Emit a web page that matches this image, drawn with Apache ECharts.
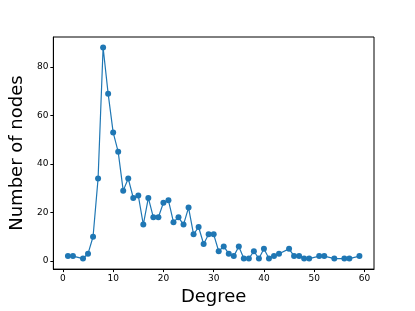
<!DOCTYPE html>
<html>
<head>
<meta charset="utf-8">
<script src="https://cdn.jsdelivr.net/npm/echarts@6/dist/echarts.min.js"></script>
<style>
  html, body { margin: 0; padding: 0; background: #fff; }
  #chart { width: 415px; height: 311px; }
</style>
</head>
<body>
<div id="chart"></div>
<script>
// degree distribution
const degrees = [1, 2, 4, 5, 6, 7, 8, 9, 10, 11, 12, 13, 14, 15, 16, 17, 18, 19, 20, 21, 22, 23, 24, 25, 26, 27, 28, 29, 30,
  31, 32, 33, 34, 35, 36, 37, 38, 39, 40, 41, 42, 43, 45, 46, 47, 48, 49, 51, 52, 54, 56, 57, 59]
const nodeCounts = [2, 2, 1, 3, 10, 34, 88, 69, 53, 45, 29, 34, 26, 27, 15, 26, 18, 18, 24, 25, 16, 18, 15, 22, 11, 14, 7, 11, 11,
  4, 6, 3, 2, 6, 1, 1, 4, 1, 5, 1, 2, 3, 5, 2, 2, 1, 1, 2, 2, 1, 1, 1, 2]
const xTicks = [0, 10, 20, 30, 40, 50, 60]
const yTicks = [0, 20, 40, 60, 80]

const chart = echarts.init(document.getElementById('chart'))
const font = 'DejaVu Sans'

chart.setOption({
  animation: false,
  grid: {
    left: 52,
    top: 37,
    width: 322,
    height: 240,
    show: true,
    borderColor: '#000',
    borderWidth: 1
  },
  xAxis: {
    type: 'value',
    min: -1.9,
    max: 61.9,
    name: 'Degree',
    nameLocation: 'middle',
    nameGap: 14,
    nameTextStyle: { fontFamily: font, fontSize: 18, color: '#000' },
    axisLine: { show: true, onZero: false, lineStyle: { color: '#000' } },
    axisTick: { show: true, customValues: xTicks, length: 3, lineStyle: { color: '#000' } },
    axisLabel: { customValues: xTicks, fontFamily: font, fontSize: 9, color: '#000', margin: 5 },
    splitLine: { show: false }
  },
  yAxis: {
    type: 'value',
    min: -3.35,
    max: 92.35,
    name: 'Number of nodes',
    nameLocation: 'middle',
    nameGap: 22,
    nameTextStyle: { fontFamily: font, fontSize: 18, color: '#000' },
    axisLine: { show: true, onZero: false, lineStyle: { color: '#000' } },
    axisTick: { show: true, customValues: yTicks, length: 3, lineStyle: { color: '#000' } },
    axisLabel: { customValues: yTicks, fontFamily: font, fontSize: 9, color: '#000', margin: 5 },
    splitLine: { show: false }
  },
  series: [
    {
      type: 'line',
      data: degrees.map((d, i) => [d, nodeCounts[i]]),
      symbol: 'circle',
      symbolSize: 6,
      itemStyle: { color: '#1f77b4' },
      lineStyle: { color: '#1f77b4', width: 1.2 }
    }
  ]
})
</script>
</body>
</html>
